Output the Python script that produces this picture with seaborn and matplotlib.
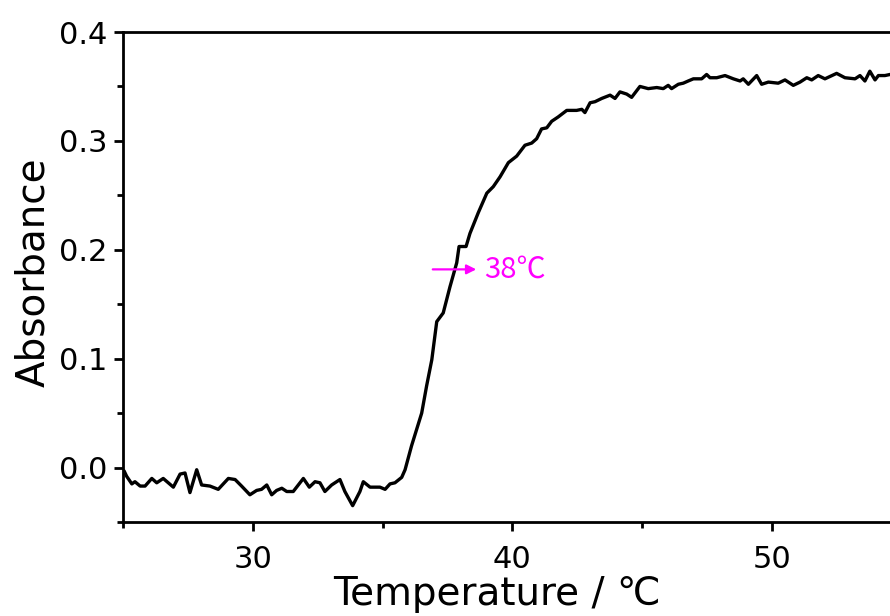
import pandas as pd
import matplotlib
matplotlib.use("Agg")
import matplotlib.pyplot as plt
import seaborn as sns

# temperature (deg C) and absorbance
temperature = [
    25.04, 25.14, 25.34, 25.46, 25.66, 25.85, 26.11, 26.30, 26.55, 26.94,
    27.20, 27.39, 27.58, 27.84, 28.03, 28.35, 28.67, 29.06, 29.32, 29.57,
    29.89, 30.15, 30.34, 30.54, 30.73, 30.92, 31.12, 31.31, 31.56, 31.95,
    32.18, 32.40, 32.59, 32.78, 33.04, 33.36, 33.55, 33.85, 34.13, 34.26,
    34.52, 34.90, 35.10, 35.29, 35.48, 35.74, 35.87, 36.12, 36.51, 36.70,
    36.90, 37.09, 37.34, 37.60, 37.86, 37.95, 38.22, 38.37, 38.69, 39.02,
    39.27, 39.53, 39.85, 40.17, 40.49, 40.75, 40.94, 41.13, 41.33, 41.52,
    41.77, 42.10, 42.48, 42.68, 42.80, 43.00, 43.19, 43.45, 43.77, 43.96,
    44.15, 44.41, 44.60, 44.92, 45.24, 45.57, 45.82, 46.01, 46.14, 46.40,
    46.59, 46.78, 46.98, 47.30, 47.49, 47.62, 47.88, 48.20, 48.52, 48.78,
    48.90, 49.10, 49.42, 49.61, 49.87, 50.25, 50.51, 50.83, 51.09, 51.35,
    51.54, 51.79, 52.05, 52.50, 52.82, 53.21, 53.40, 53.59, 53.78, 53.98,
    54.11, 54.36, 54.56, 55.00,
]
absorbance = [
    -0.003, -0.008, -0.015, -0.013, -0.017, -0.017, -0.010, -0.014, -0.010, -0.018,
    -0.006, -0.005, -0.023, -0.002, -0.016, -0.017, -0.020, -0.010, -0.011, -0.017,
    -0.025, -0.021, -0.020, -0.016, -0.025, -0.021, -0.019, -0.022, -0.022, -0.010,
    -0.018, -0.013, -0.014, -0.022, -0.016, -0.011, -0.022, -0.035, -0.022, -0.013,
    -0.018, -0.018, -0.020, -0.015, -0.014, -0.009, -0.002, 0.020, 0.050, 0.075,
    0.099, 0.134, 0.142, 0.166, 0.188, 0.203, 0.203, 0.215, 0.234, 0.252,
    0.258, 0.267, 0.280, 0.286, 0.296, 0.298, 0.302, 0.311, 0.312, 0.318,
    0.322, 0.328, 0.328, 0.329, 0.326, 0.335, 0.336, 0.339, 0.342, 0.339,
    0.345, 0.343, 0.340, 0.350, 0.348, 0.349, 0.348, 0.351, 0.348, 0.352,
    0.353, 0.355, 0.357, 0.357, 0.361, 0.358, 0.358, 0.360, 0.357, 0.355,
    0.357, 0.352, 0.360, 0.352, 0.354, 0.353, 0.356, 0.351, 0.354, 0.358,
    0.356, 0.360, 0.357, 0.362, 0.358, 0.357, 0.360, 0.355, 0.364, 0.356,
    0.360, 0.360, 0.361, 0.362,
]

transition_temp = 38
arrow_start = (36.83, 0.182)
arrow_end = (38.72, 0.182)

df = pd.DataFrame({"Temperature": temperature, "Absorbance": absorbance})

sns.set_style("ticks")
plt.rcParams["font.family"] = ["DejaVu Sans", "Noto Sans CJK SC"]

fig = plt.figure(figsize=(8.9, 6.16), dpi=100)
# axes run past the right edge, like the cropped original
ax = fig.add_axes([123 / 890, 94 / 616, 804.45 / 890, 490 / 616])

sns.lineplot(data=df, x="Temperature", y="Absorbance", color="black",
             linewidth=2.4, sort=False, ax=ax)

ax.set_xlim(25, 56)
ax.set_ylim(-0.05, 0.4)
ax.set_xticks([30, 40, 50])
ax.set_xticks([25, 35, 45, 55], minor=True)
ax.set_yticks([0.0, 0.1, 0.2, 0.3, 0.4])
ax.set_yticks([-0.05, 0.05, 0.15, 0.25, 0.35], minor=True)
ax.set_yticklabels(["0.0", "0.1", "0.2", "0.3", "0.4"])

for side in ax.spines:
    ax.spines[side].set_linewidth(2.0)
    ax.spines[side].set_color("black")
ax.tick_params(which="major", direction="out", length=6.5, width=2.0, labelsize=22,
               color="black", labelcolor="black")
ax.tick_params(which="minor", direction="out", length=4.5, width=2.0, color="black")
ax.tick_params(axis="x", which="major", pad=10)
ax.tick_params(axis="y", which="major", pad=5)

ax.set_xlabel("Temperature / ℃", fontsize=28, color="black")
ax.set_ylabel("Absorbance", fontsize=28, color="black")
ax.xaxis.set_label_coords(0.465, -0.108)
ax.yaxis.set_label_coords(-0.088, 0.51)

ax.annotate("", xy=arrow_end, xytext=arrow_start,
            arrowprops=dict(arrowstyle="-|>", color="#FF00FF", lw=1.6, mutation_scale=14))
ax.text(arrow_end[0] + 0.2, arrow_end[1], f"{transition_temp}℃", color="#FF00FF",
        fontsize=21, va="center", ha="left", family=["Noto Sans CJK SC", "DejaVu Sans"])

fig.savefig("out.png", dpi=100)
